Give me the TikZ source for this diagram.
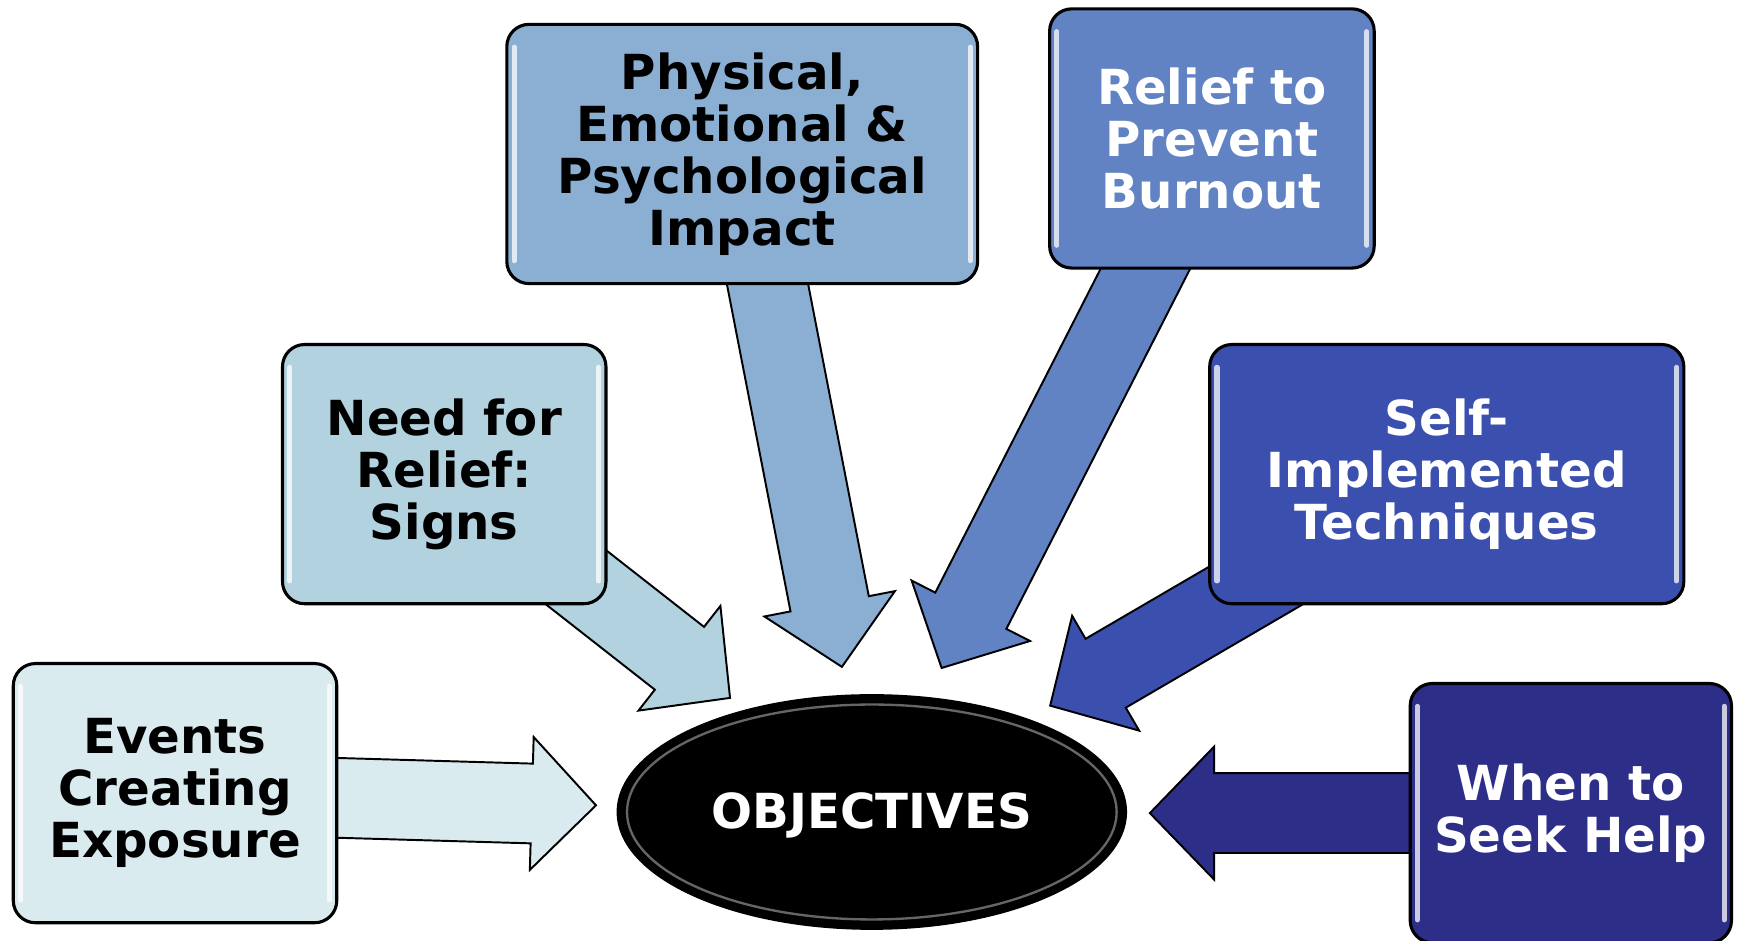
\documentclass[tikz,border=0pt]{standalone}
\usepackage{fontspec}
\setmainfont{DejaVu Sans}
\usetikzlibrary{calc,shapes.geometric}
\pgfdeclarelayer{background}
\pgfsetlayers{background,main}

\definecolor{eventsblue}{HTML}{D9EBEE}
\definecolor{needblue}{HTML}{B3D2DF}
\definecolor{impactblue}{HTML}{8AAFD3}
\definecolor{burnoutblue}{HTML}{6283C3}
\definecolor{selfblue}{HTML}{3B50AE}
\definecolor{seekblue}{HTML}{2D2E88}

\tikzset{
box/.style={draw=black, line width=0.8pt, rounded corners=0.2cm, align=center,
  minimum height=2.34cm, font=\fontsize{12.4}{13.4}\selectfont\bfseries,
  execute at begin node={\rule{0pt}{11pt}}},
arrowbody/.style={draw=black, line width=0.5pt, line join=miter},
gloss/.style={white, line width=1.3pt, line cap=round, opacity=0.75}
}

\begin{document}
\begin{tikzpicture}[x=0.1mm,y=-0.1mm]
\useasboundingbox (0,0) rectangle (1568,849);

% boxes
\node[box, fill=eventsblue, minimum width=2.92cm] (events) at (158,716) {Events\\Creating\\Exposure};
\node[box, fill=needblue, minimum width=2.92cm] (need) at (401,428) {Need for\\Relief:\\Signs};
\node[box, fill=impactblue, minimum width=4.25cm] (impact) at (670,139) {Physical,\\Emotional \&\\Psychological\\Impact};
\node[box, fill=burnoutblue, text=white, minimum width=2.93cm] (burnout) at (1094,125) {Relief to\\Prevent\\Burnout};
\node[box, fill=selfblue, text=white, minimum width=4.28cm] (selfhelp) at (1306,428) {Self-\\Implemented\\Techniques};
\node[box, fill=seekblue, text=white, minimum width=2.90cm] (seekhelp) at (1418,734) {When to\\Seek Help};

\node[ellipse, draw=black, line width=0.8pt, fill=black, text=white, minimum width=4.58cm,
  minimum height=2.10cm, font=\fontsize{12.4}{13.4}\selectfont\bfseries] (objectives) at (787,733) {\rule{0pt}{11pt}OBJECTIVES};
\draw[white, opacity=0.4, line width=0.6pt] (objectives.center) ellipse [x radius=221, y radius=97];

% arrow tips
\coordinate (tipa) at (538,727);
\coordinate (tipb) at (659,630);
\coordinate (tipc) at (760,602);
\coordinate (tipd) at (850,603);
\coordinate (tipe) at (948,637);
\coordinate (tipf) at (1038,734);

\begin{pgfonlayer}{background}
\foreach \s/\t/\c in {events/tipa/eventsblue, need/tipb/needblue, impact/tipc/impactblue,
  burnout/tipd/burnoutblue, selfhelp/tipe/selfblue, seekhelp/tipf/seekblue}
{
\coordinate (h) at ($(\t)!0.58cm!(\s.center)$);
\draw[arrowbody, fill=\c] ($(\s.center)!0.36cm!90:(\t)$) -- ($(h)!0.36cm!90:(\t)$)
  -- ($(h)!0.60cm!90:(\t)$) -- (\t) -- ($(h)!0.60cm!-90:(\t)$)
  -- ($(h)!0.36cm!-90:(\t)$) -- ($(\s.center)!0.36cm!-90:(\t)$) -- cycle;
}
\end{pgfonlayer}

% highlights
\foreach \n in {events,need,impact,burnout,selfhelp,seekhelp}
{
\draw[gloss] ($(\n.north west)+(8,22)$) -- ($(\n.south west)+(8,-22)$);
\draw[gloss] ($(\n.north east)+(-8,22)$) -- ($(\n.south east)+(-8,-22)$);
}
\end{tikzpicture}
\end{document}
